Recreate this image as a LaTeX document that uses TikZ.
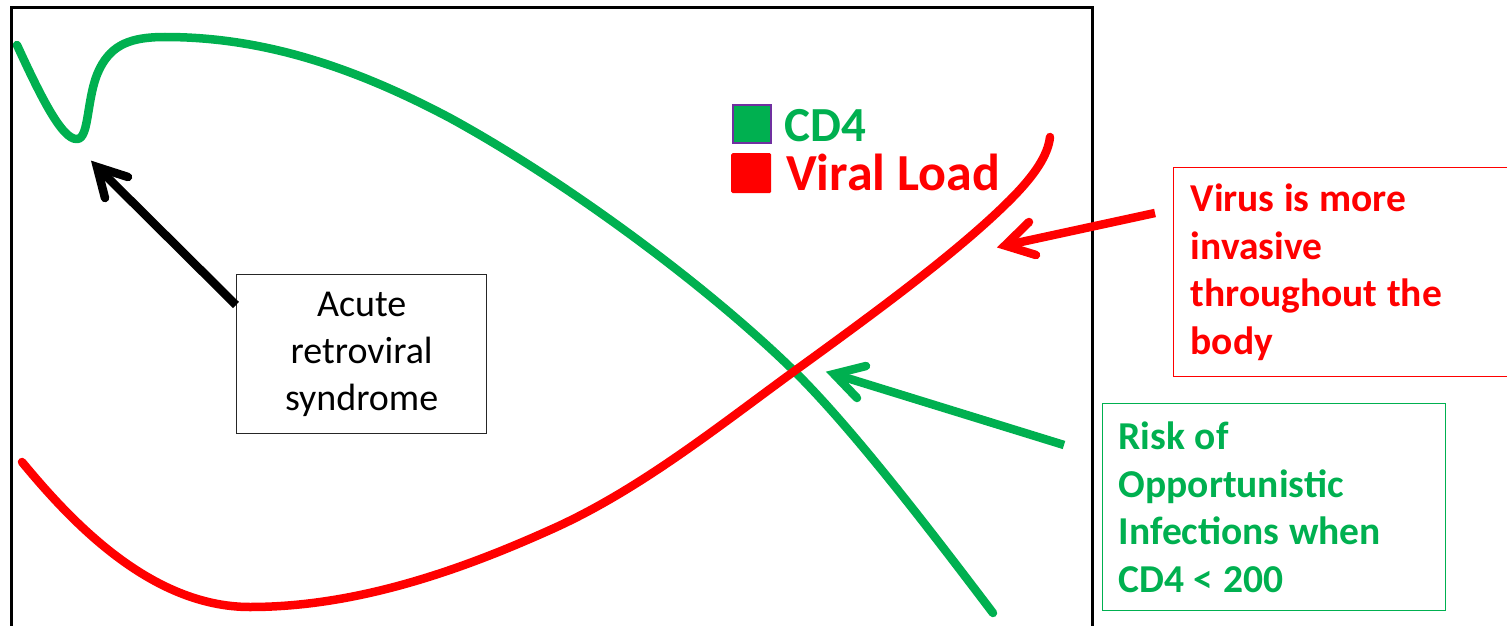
\documentclass[tikz,border=0pt]{standalone}
\usepackage{fontspec}
\setmainfont{Carlito}
\definecolor{cdgreen}{HTML}{00B050}
\definecolor{vred}{HTML}{FF0000}
\definecolor{lpurple}{HTML}{7030A0}
\newcommand{\tightsp}{\spaceskip=0.24em\relax}
\begin{document}
\begin{tikzpicture}[x=1pt,y=-1pt,
  curveline/.style={line width=8.5pt, line cap=round, line join=round},
  shaft/.style={line width=8.5pt, line cap=butt},
  barbs/.style={line width=8.5pt, line cap=round, line join=miter},
  boxtext/.style={anchor=north west, inner sep=0pt, line width=1.3pt},
  bigbold/.style={font={\bfseries\fontsize{39.5}{47.5}\selectfont}}]
\useasboundingbox (0,0) rectangle (1507,626);
% frame
\draw[line width=3pt] (11,626) -- (11,8) -- (1092,8) -- (1092,626);
% CD4 curve
\draw[curveline, cdgreen] (17,45) .. controls (40,95) and (62,140) .. (77,139)
  .. controls (90,139) and (86,95) .. (100,68)
  .. controls (112,45) and (130,37) .. (165,37)
  .. controls (260,37) and (350,65) .. (450,118)
  .. controls (560,178) and (700,280) .. (790,367)
  .. controls (850,425) and (930,530) .. (993,613);
% Viral load curve
\draw[curveline, vred] (22,462) .. controls (70,520) and (150,607) .. (250,607)
  .. controls (350,607) and (450,575) .. (550,530)
  .. controls (640,490) and (720,425) .. (800,367)
  .. controls (880,309) and (960,250) .. (1010,200)
  .. controls (1035,175) and (1048,155) .. (1050,137);
% legend
\node[fill=cdgreen, draw=lpurple, line width=2pt, minimum size=38pt, inner sep=0pt, anchor=north west] (lg) at (732,104) {};
\node[fill=vred, rounded corners=1.5pt, minimum size=40pt, inner sep=0pt, anchor=north west] (lr) at (731,153) {};
\node[anchor=base west, inner sep=0pt, text=cdgreen, font=\bfseries\fontsize{49}{55}\selectfont] (tcd) at (784,141) {CD4};
\node[anchor=base west, inner sep=0pt, text=vred, font=\bfseries\fontsize{52}{60}\selectfont] (tvl) at (786,190) {Viral Load};
% boxes
\node[boxtext, draw=black!85, minimum width=250pt, minimum height=159pt, align=center,
  font=\fontsize{38}{47}\selectfont] (ars) at (236,274) {Acute\\retroviral\\syndrome};
\node[boxtext, draw=vred, minimum width=333pt, minimum height=209pt, text width=300pt,
  inner xsep=17pt, align=left, bigbold, text=vred] (virus) at (1173,167)
  {\tightsp Virus is more\\invasive\\throughout the\\body};
\node[boxtext, draw=cdgreen, minimum width=343pt, minimum height=207pt, text width=311pt,
  inner xsep=16pt, align=left, bigbold, text=cdgreen] (risk) at (1102,403)
  {\tightsp Risk of\\Opportunistic\\Infections when\\CD4 < 200};
% arrows
\coordinate (ktip) at (97,167);
\coordinate (rtip) at (1005,245.5);
\coordinate (gtip) at (834,374);
\coordinate (rstart) at (1155,213);
\coordinate (gstart) at (1064,445);
\draw[shaft, black] ([yshift=-31pt]ars.north west) -- (ktip);
\draw[barbs, black] (128,177) -- (ktip) -- (105,198);
\draw[shaft, vred] (rstart) -- (rtip);
\draw[barbs, vred] (1029,222) -- (rtip) -- (1036,255);
\draw[shaft, cdgreen] (gstart) -- (gtip);
\draw[barbs, cdgreen] (866,366) -- (gtip) -- (857,398);
\end{tikzpicture}
\end{document}
